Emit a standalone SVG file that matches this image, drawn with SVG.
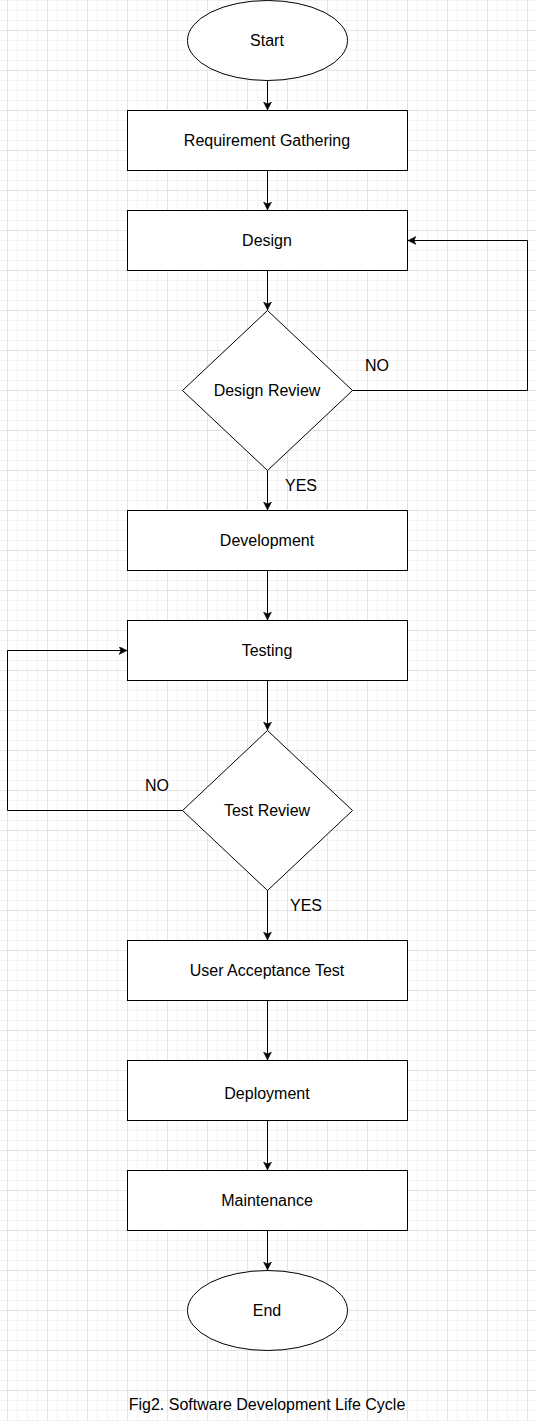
<svg xmlns="http://www.w3.org/2000/svg" width="536" height="1421" viewBox="0 0 536 1421">
<style>
.shape{fill:#ffffff;stroke:#000000;stroke-width:1}
.edge{fill:none;stroke:#000000;stroke-width:1}
.lbl{font-family:"Liberation Sans",Arial,sans-serif;font-size:16px;fill:#000000;text-anchor:middle}
</style>
<defs>
<pattern id="grid" x="7" y="30" width="40" height="40" patternUnits="userSpaceOnUse">
<path d="M10.5,0V40M20.5,0V40M30.5,0V40M0,10.5H40M0,20.5H40M0,30.5H40" stroke="#f3f3f3" stroke-width="1" fill="none"/>
<path d="M0.5,0V40M0,0.5H40" stroke="#e4e4e4" stroke-width="1" fill="none"/>
</pattern>
<marker id="arr" markerWidth="10" markerHeight="10" refX="8" refY="4" orient="auto" markerUnits="userSpaceOnUse">
<path d="M0,0 L8,4 L0,8 L2,4 Z" fill="#000000" stroke="#000000" stroke-width="0.5"/>
</marker>
</defs>
<rect x="0" y="0" width="536" height="1421" fill="#ffffff"/>
<rect x="0" y="0" width="536" height="1421" fill="url(#grid)"/>

<g id="connectors">
<path class="edge" d="M267.5,80.5V110" marker-end="url(#arr)"/>
<path class="edge" d="M267.5,170.5V210" marker-end="url(#arr)"/>
<path class="edge" d="M267.5,270.5V310" marker-end="url(#arr)"/>
<path class="edge" d="M352.5,390.5H527.5V240.5H408" marker-end="url(#arr)"/>
<path class="edge" d="M267.5,470.5V510" marker-end="url(#arr)"/>
<path class="edge" d="M267.5,570.5V620" marker-end="url(#arr)"/>
<path class="edge" d="M267.5,680.5V730" marker-end="url(#arr)"/>
<path class="edge" d="M182.5,810.5H7.5V650.5H127" marker-end="url(#arr)"/>
<path class="edge" d="M267.5,890.5V940" marker-end="url(#arr)"/>
<path class="edge" d="M267.5,1000.5V1060" marker-end="url(#arr)"/>
<path class="edge" d="M267.5,1120.5V1170" marker-end="url(#arr)"/>
<path class="edge" d="M267.5,1230.5V1270" marker-end="url(#arr)"/>
<text class="lbl" x="377" y="371">NO</text>
<text class="lbl" x="301" y="491">YES</text>
<text class="lbl" x="157" y="791">NO</text>
<text class="lbl" x="306" y="911">YES</text>
</g>

<g id="start">
<ellipse class="shape" cx="267.5" cy="40.5" rx="80" ry="40"/>
<text class="lbl" x="267" y="46">Start</text>
</g>
<g id="requirement">
<rect class="shape" x="127.5" y="110.5" width="280" height="60"/>
<text class="lbl" x="267" y="146">Requirement Gathering</text>
</g>
<g id="design">
<rect class="shape" x="127.5" y="210.5" width="280" height="60"/>
<text class="lbl" x="267" y="246">Design</text>
</g>
<g id="design-review">
<path class="shape" d="M267.5,310.5L352.5,390.5L267.5,470.5L182.5,390.5Z"/>
<text class="lbl" x="267" y="396">Design Review</text>
</g>
<g id="development">
<rect class="shape" x="127.5" y="510.5" width="280" height="60"/>
<text class="lbl" x="267" y="546">Development</text>
</g>
<g id="testing">
<rect class="shape" x="127.5" y="620.5" width="280" height="60"/>
<text class="lbl" x="267" y="656">Testing</text>
</g>
<g id="test-review">
<path class="shape" d="M267.5,730.5L352.5,810.5L267.5,890.5L182.5,810.5Z"/>
<text class="lbl" x="267" y="816">Test Review</text>
</g>
<g id="uat">
<rect class="shape" x="127.5" y="940.5" width="280" height="60"/>
<text class="lbl" x="267" y="976">User Acceptance Test</text>
</g>
<g id="deployment">
<rect class="shape" x="127.5" y="1060.5" width="280" height="60"/>
<text class="lbl" x="267" y="1099">Deployment</text>
</g>
<g id="maintenance">
<rect class="shape" x="127.5" y="1170.5" width="280" height="60"/>
<text class="lbl" x="267" y="1206">Maintenance</text>
</g>
<g id="end">
<ellipse class="shape" cx="267.5" cy="1310.5" rx="80" ry="40"/>
<text class="lbl" x="267" y="1316">End</text>
</g>
<g id="caption">
<text class="lbl" x="267" y="1410">Fig2. Software Development Life Cycle</text>
</g>
</svg>
